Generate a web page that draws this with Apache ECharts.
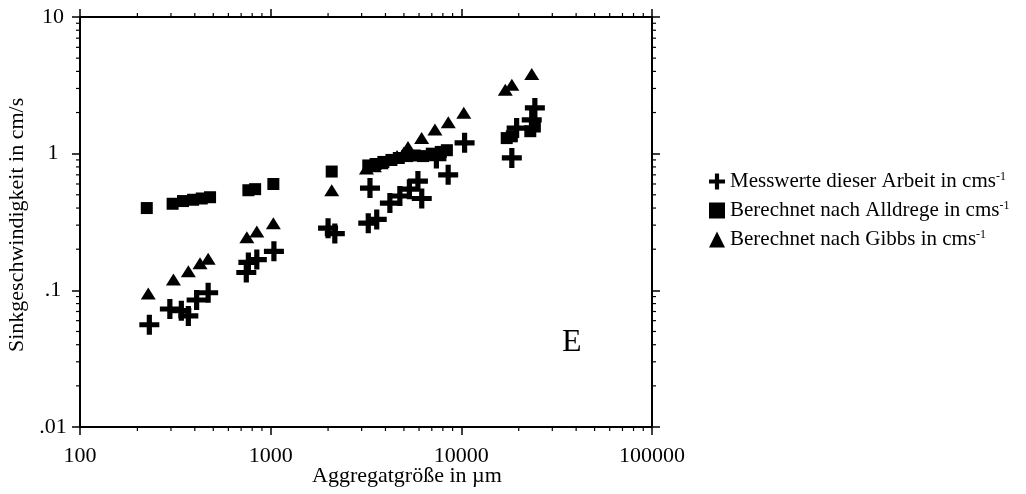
<!DOCTYPE html>
<html>
<head>
<meta charset="utf-8">
<script src="https://cdn.jsdelivr.net/npm/echarts@6/dist/echarts.min.js"></script>
<style>
  html, body { margin: 0; padding: 0; background: #fff; }
  #chart { width: 1026px; height: 494px; }
</style>
</head>
<body>
<div id="chart"></div>
<script>
// Sinkgeschwindigkeit vs. Aggregatgröße (log-log)
const messwerte = [[231,0.056],[296,0.073],[340,0.071],[370,0.065],[409,0.085],[470,0.096],
  [745,0.135],[764,0.16],[846,0.168],[1040,0.193],[2000,0.285],[2170,0.26],[3250,0.31],
  [3600,0.33],[3318,0.56],[4220,0.435],[4760,0.49],[5340,0.55],[5920,0.63],[6200,0.47],
  [7400,0.92],[8530,0.70],[10400,1.2],[18400,0.93],[19500,1.54],[23400,1.77],[24300,2.16]];
const alldrege = [[224,0.40],[306,0.43],[347,0.45],[392,0.46],[435,0.47],[481,0.48],
  [764,0.54],[829,0.55],[1033,0.60],[2090,0.74],[3250,0.82],[3550,0.84],[3900,0.87],
  [4300,0.90],[4700,0.93],[5200,0.96],[5700,0.97],[6300,0.96],[7000,1.0],[7800,1.03],
  [8400,1.06],[17300,1.30],[18400,1.34],[23000,1.46],[24300,1.58]];
const gibbs = [[228,0.095],[309,0.12],[370,0.138],[426,0.158],[470,0.17],[750,0.245],
  [846,0.27],[1033,0.31],[2090,0.54],[3180,0.78],[3500,0.81],[3800,0.85],[4200,0.9],
  [4600,0.96],[5000,1.02],[5250,1.12],[6190,1.30],[7270,1.50],[8540,1.70],[10300,1.99],
  [17000,2.94],[18400,3.2],[23400,3.83]];

const seriesNames = ['Messwerte dieser Arbeit in cms', 'Berechnet nach Alldrege in cms', 'Berechnet nach Gibbs in cms'];
const xTickLabels = { 100: '100', 1000: '1000', 10000: '10000', 100000: '100000' };
const yTickLabels = { 0.01: '.01', 0.1: '.1', 1: '1', 10: '10' };
const xRange = [100, 100000];
const yRange = [0.01, 10];

// logarithmic minor tick positions (2..9 within each decade)
function minorTicks(lo, hi) {
  const out = [];
  for (let d = lo; d < hi; d *= 10) {
    for (let k = 2; k <= 9; k++) out.push(+(d * k).toPrecision(3));
  }
  return out;
}
const xMinor = minorTicks(xRange[0], xRange[1]);
const yMinor = minorTicks(yRange[0], yRange[1]);

const FONT = '"Liberation Serif", "DejaVu Serif", serif';
const crossPath = 'path://M3.7,0H6.3V3.7H10V6.3H6.3V10H3.7V6.3H0V3.7H3.7Z';
const INK = '#000';

const chart = echarts.init(document.getElementById('chart'), null, { renderer: 'canvas' });

function logAxis(pos, range, labels, showLabels, labelExtra) {
  return {
    type: 'log', logBase: 10, position: pos, min: range[0], max: range[1],
    axisLine: { show: true, lineStyle: { color: INK, width: 2 } },
    axisTick: { show: true, inside: false, length: 8, lineStyle: { color: INK, width: 1.5 } },
    splitLine: { show: false },
    axisLabel: Object.assign({
      show: showLabels, color: INK, fontFamily: FONT, fontSize: 22,
      formatter: v => labels[+v] !== undefined ? labels[+v] : ''
    }, labelExtra || {})
  };
}

const tickLine = (x1, y1, x2, y2) => ({
  type: 'line', shape: { x1, y1, x2, y2 }, style: { stroke: INK, lineWidth: 1.2 }
});

const option = {
  backgroundColor: '#fff',
  animation: false,
  grid: { left: 80, right: 374, top: 17, bottom: 67 },
  xAxis: [
    logAxis('bottom', xRange, xTickLabels, true, { margin: 18 }),
    logAxis('top', xRange, xTickLabels, false)
  ],
  yAxis: [
    logAxis('left', yRange, yTickLabels, true, { margin: 27, align: 'center' }),
    logAxis('right', yRange, yTickLabels, false)
  ],
  legend: {
    orient: 'vertical', left: 704, top: 166, itemGap: 8, itemWidth: 16, itemHeight: 16,
    textStyle: {
      color: INK, fontFamily: FONT, fontSize: 21,
      rich: { sup: { fontFamily: FONT, fontSize: 12, verticalAlign: 'top', color: INK } }
    },
    formatter: name => name + '{sup|-1}',
    data: [
      { name: seriesNames[0], icon: crossPath },
      { name: seriesNames[1], icon: 'rect' },
      { name: seriesNames[2], icon: 'triangle' }
    ]
  },
  graphic: [
    { type: 'text', left: 562, top: 327, style: { text: 'E', font: '32px ' + FONT, fill: INK } },
    { type: 'text', left: 312, top: 465,
      style: { text: 'Aggregatgröße in µm', font: '22px ' + FONT, fill: INK } },
    { type: 'text', rotation: Math.PI / 2, x: 6, y: 352,
      style: { text: 'Sinkgeschwindigkeit in cm/s', font: '22px ' + FONT, fill: INK, textVerticalAlign: 'top' } }
  ],
  series: [
    {
      name: seriesNames[0], type: 'scatter', data: messwerte, symbol: crossPath, symbolSize: 20,
      itemStyle: { color: INK, opacity: 1 }, z: 4
    },
    {
      name: seriesNames[1], type: 'scatter', data: alldrege, symbol: 'rect', symbolSize: 12,
      itemStyle: { color: INK, opacity: 1 }, z: 3
    },
    {
      name: seriesNames[2], type: 'scatter', data: gibbs, symbol: 'triangle', symbolSize: [15, 12],
      itemStyle: { color: INK, opacity: 1 }, z: 3
    },
    {
      // minor ticks on the bottom and top axes
      type: 'custom', silent: true, clip: false,
      data: xMinor.map(v => [v, yRange[0]]),
      renderItem: (params, api) => {
        const b = api.coord([api.value(0), yRange[0]]);
        const t = api.coord([api.value(0), yRange[1]]);
        return { type: 'group', children: [
          tickLine(b[0], b[1], b[0], b[1] + 4), tickLine(t[0], t[1], t[0], t[1] - 4)
        ] };
      }
    },
    {
      // minor ticks on the left and right axes
      type: 'custom', silent: true, clip: false,
      data: yMinor.map(v => [xRange[0], v]),
      renderItem: (params, api) => {
        const l = api.coord([xRange[0], api.value(1)]);
        const r = api.coord([xRange[1], api.value(1)]);
        return { type: 'group', children: [
          tickLine(l[0], l[1], l[0] - 4, l[1]), tickLine(r[0], r[1], r[0] + 4, r[1])
        ] };
      }
    }
  ]
};

chart.setOption(option);
</script>
</body>
</html>
